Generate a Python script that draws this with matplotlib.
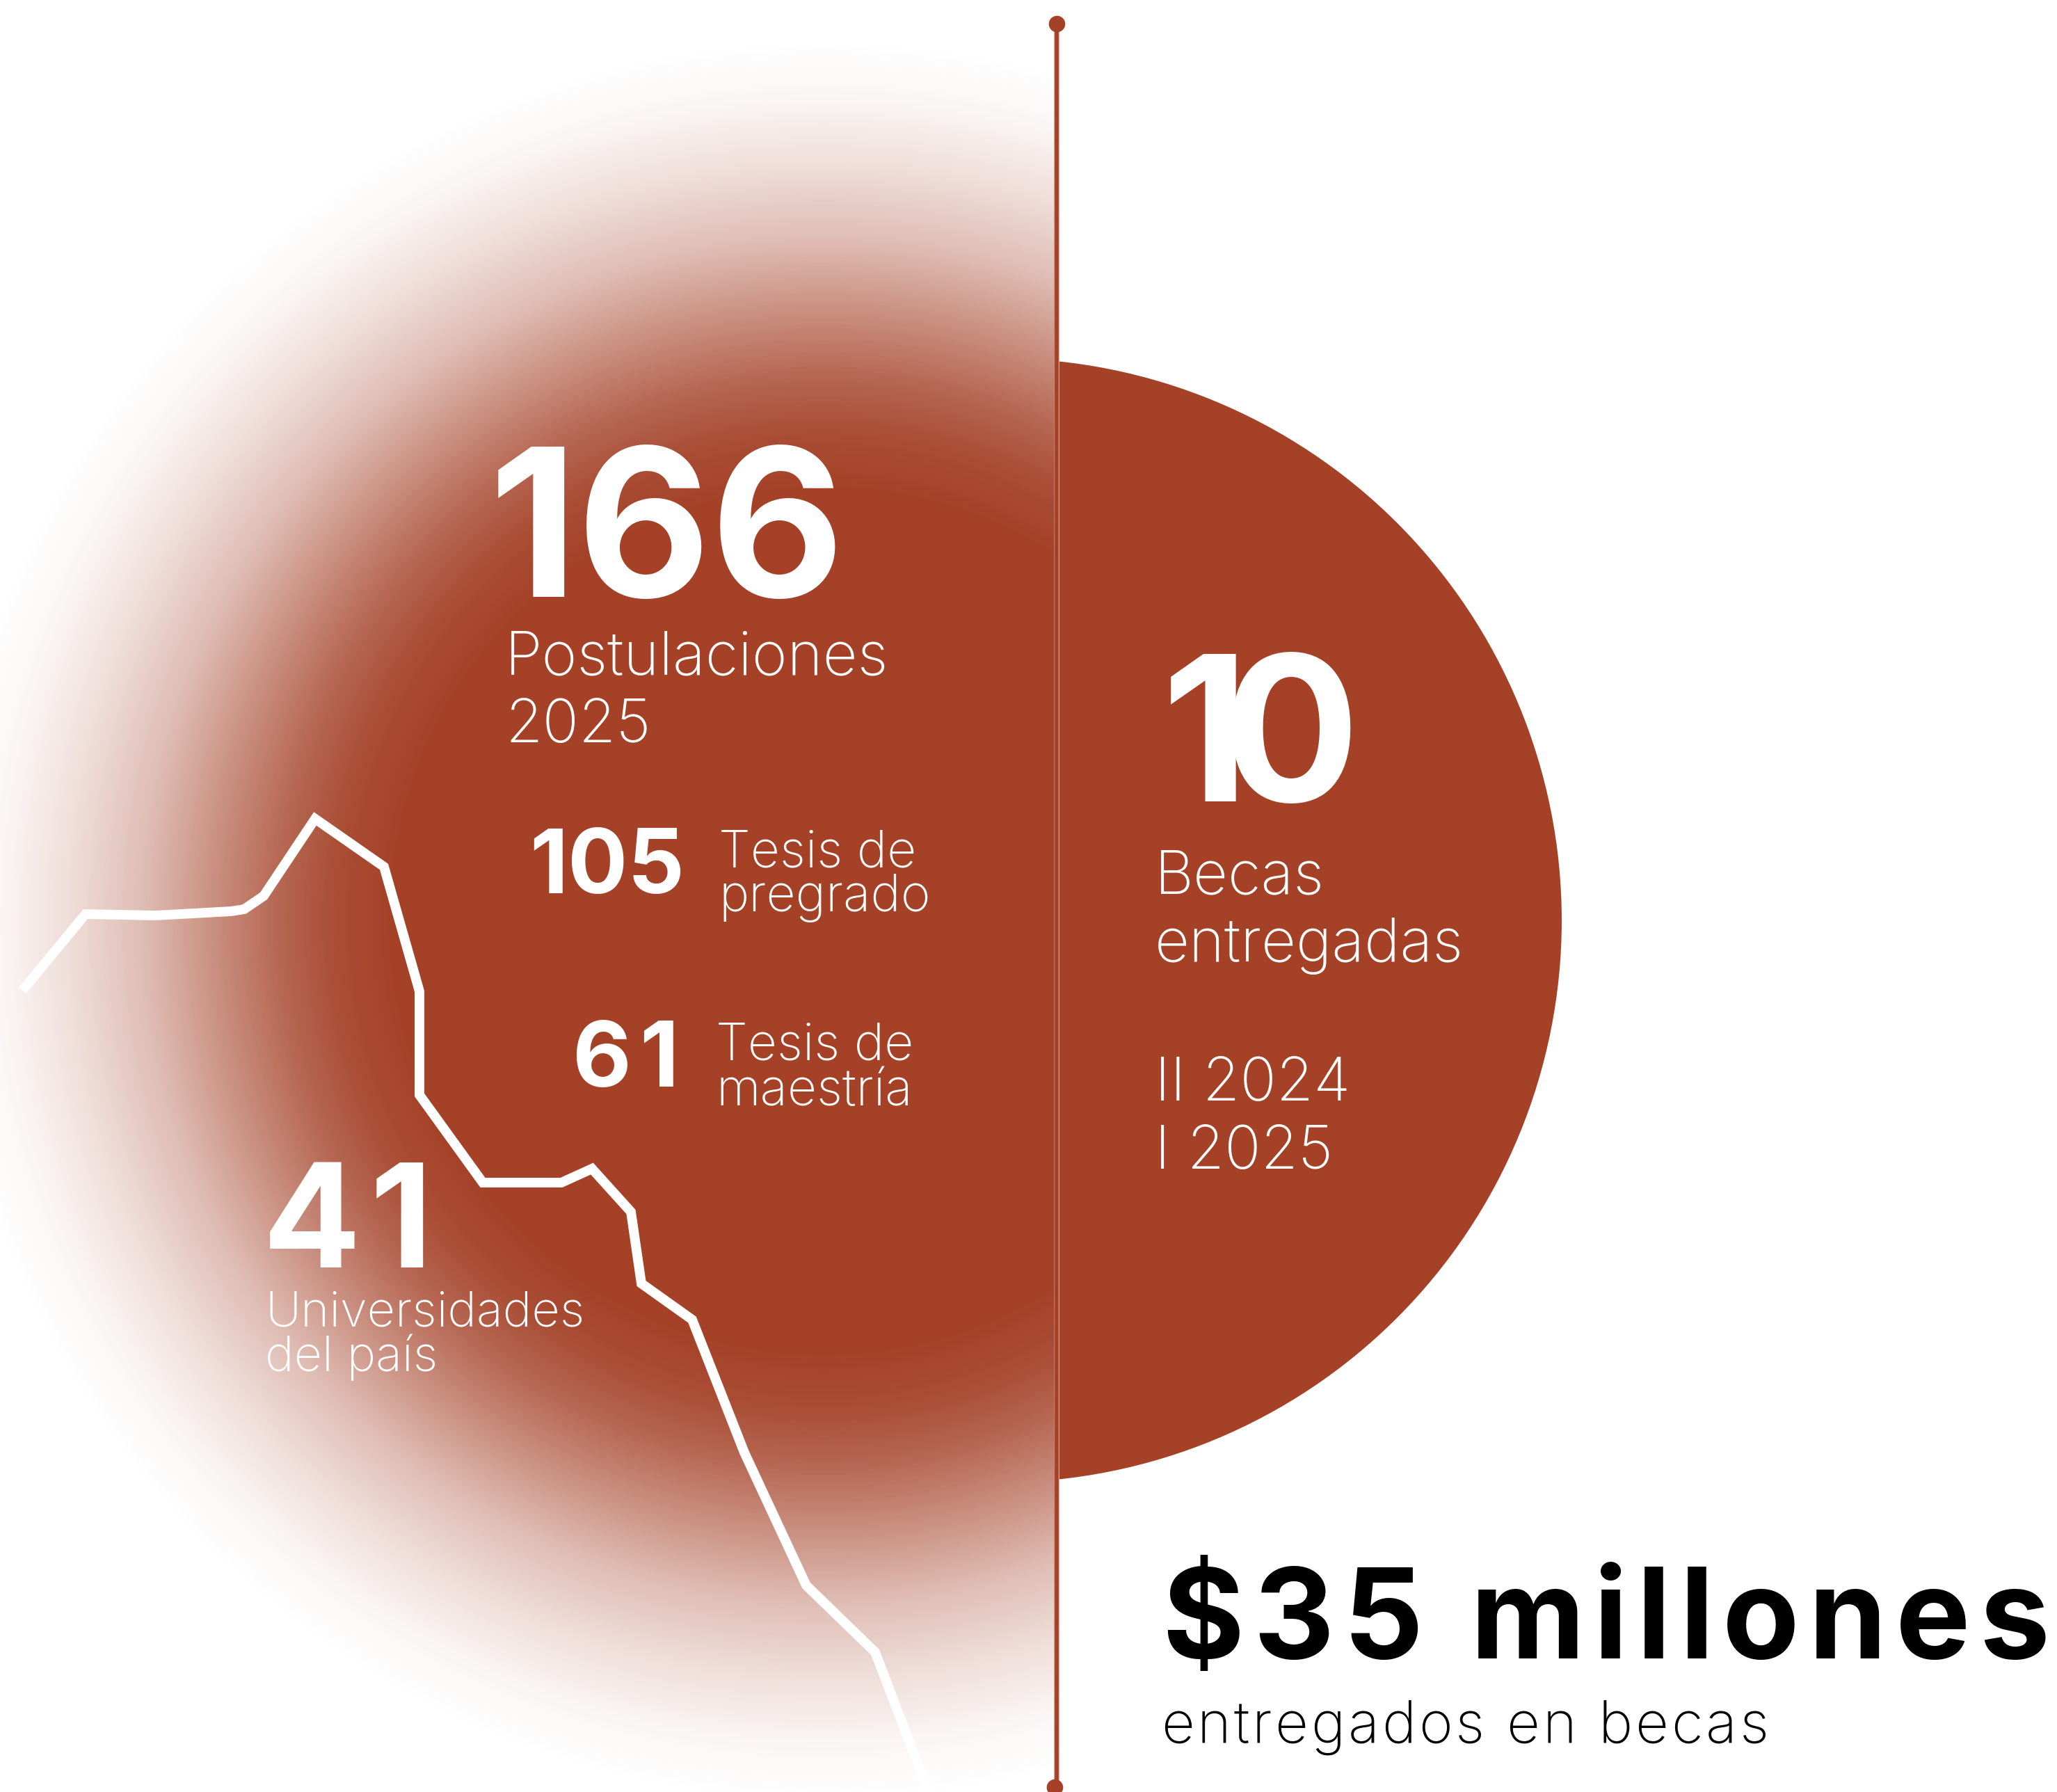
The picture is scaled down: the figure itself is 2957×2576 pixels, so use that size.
import matplotlib
matplotlib.use('Agg')
import matplotlib.pyplot as plt
from matplotlib.font_manager import FontProperties, findfont, get_font
from matplotlib.ft2font import LoadFlags
from matplotlib.patches import Circle, Rectangle
import numpy as np

W, H = 2957, 2576
RUST = '#a44127'

# border line (px in the reference)
border_x = [32, 123, 223, 332, 351, 379, 453, 552, 603, 603, 694, 807, 851, 907, 922, 995, 1070, 1159, 1258, 1335]
border_y = [1424, 1314, 1316, 1310, 1307, 1288, 1177, 1246, 1425, 1574, 1700, 1700, 1680, 1742, 1845, 1897, 2088, 2279, 2375, 2576]

# fade of the left half: distance from the glow centre, opacity
fade_r = [0, 620, 700, 780, 860, 980, 1083, 1183, 1265]
fade_a = [1, 1, 0.94, 0.81, 0.63, 0.35, 0.18, 0.05, 0]

big_nums = ['166', '10', '105', '61', '41']
big_x = [703, 1670, 761, 823, 378]
big_y = [858, 1152, 1284, 1562, 1822]
big_size = [213, 210, 92, 94, 150]
big_track = [0, -38, 0, 11, 13]

labels = ['Postulaciones\n2025', 'Tesis de\npregrado', 'Tesis de\nmaestría',
          'Universidades\ndel país', 'Becas\nentregadas', 'II 2024\nI 2025']
label_x = [726, 1033, 1029, 381, 1660, 1660]
label_y = [1067, 1310, 1589, 1971, 1382, 1680]
label_size = [62.5, 52.6, 52.6, 50.6, 62.5, 62.5]
label_gap = [98, 64, 66, 65, 98, 98]

plt.rcParams['font.family'] = ['Inter', 'DejaVu Sans']


def spaced_text(ax, x, y, s, size, weight, track, color='white'):
    # matplotlib has no letter spacing, so step along the glyph advances
    if track == 0:
        ax.text(x, y, s, color=color, fontsize=size, fontweight=weight,
                ha='left', va='baseline', zorder=6)
        return
    font = get_font(findfont(FontProperties(family='Inter', weight=weight)))
    font.set_size(size, 100)
    for ch in s:
        ax.text(x, y, ch, color=color, fontsize=size, fontweight=weight,
                ha='left', va='baseline', zorder=6)
        adv = font.load_char(ord(ch), flags=LoadFlags.NO_HINTING).linearHoriAdvance / 65536
        x += adv + track


fig = plt.figure(figsize=(W / 100, H / 100), dpi=100)
ax = fig.add_axes([0, 0, 1, 1])
ax.axis('off')

# fading glow on the left
edge = 1519
cy = 1323
xx, yy = np.meshgrid(np.arange(0, edge), np.arange(0, H))
r = np.hypot(xx - 1183, yy - cy)
img = np.zeros((H, edge, 4))
img[..., :3] = matplotlib.colors.to_rgb(RUST)
img[..., 3] = np.interp(r, fade_r, fade_a)
ax.imshow(img, extent=(0, edge, H, 0), aspect='auto', interpolation='bilinear', zorder=1)
ax.set_xlim(0, W)
ax.set_ylim(H, 0)

# solid disc on the right, cut off at the line
disc = Circle((1437, cy), 808, fc=RUST, ec='none', zorder=2)
ax.add_patch(disc)
disc.set_clip_path(Rectangle((1523, 0), W, H, transform=ax.transData))

ax.plot([edge, edge], [34, H], color='#c98a78', lw=5.8, alpha=0.7, zorder=3)
ax.plot([edge, edge], [34, H], color=RUST, lw=4.0, zorder=3)
ax.plot([edge, 1516], [34, 2569], 'o', color=RUST, ms=17, mew=0, zorder=4)

ax.plot(border_x, border_y, color='white', lw=10, solid_joinstyle='miter',
        solid_capstyle='butt', zorder=5)

for s, x, y, fs, tr in zip(big_nums, big_x, big_y, big_size, big_track):
    spaced_text(ax, x, y, s, fs, 'bold', tr)

# two-line labels, y is the baseline of the second line
for s, x, y, fs, gap in zip(labels, label_x, label_y, label_size, label_gap):
    first, second = s.split('\n')
    ax.text(x, y - gap, first, color='white', fontsize=fs, fontweight='light', va='baseline', zorder=6)
    ax.text(x, y, second, color='white', fontsize=fs, fontweight='light', va='baseline', zorder=6)

spaced_text(ax, 1670, 2384, '$35 millones', 130, 'bold', 12.7, color='#000000')
spaced_text(ax, 1669, 2505, 'entregados en becas', 60, 'light', 3.9, color='#000000')

fig.savefig('out.png', dpi=100)
